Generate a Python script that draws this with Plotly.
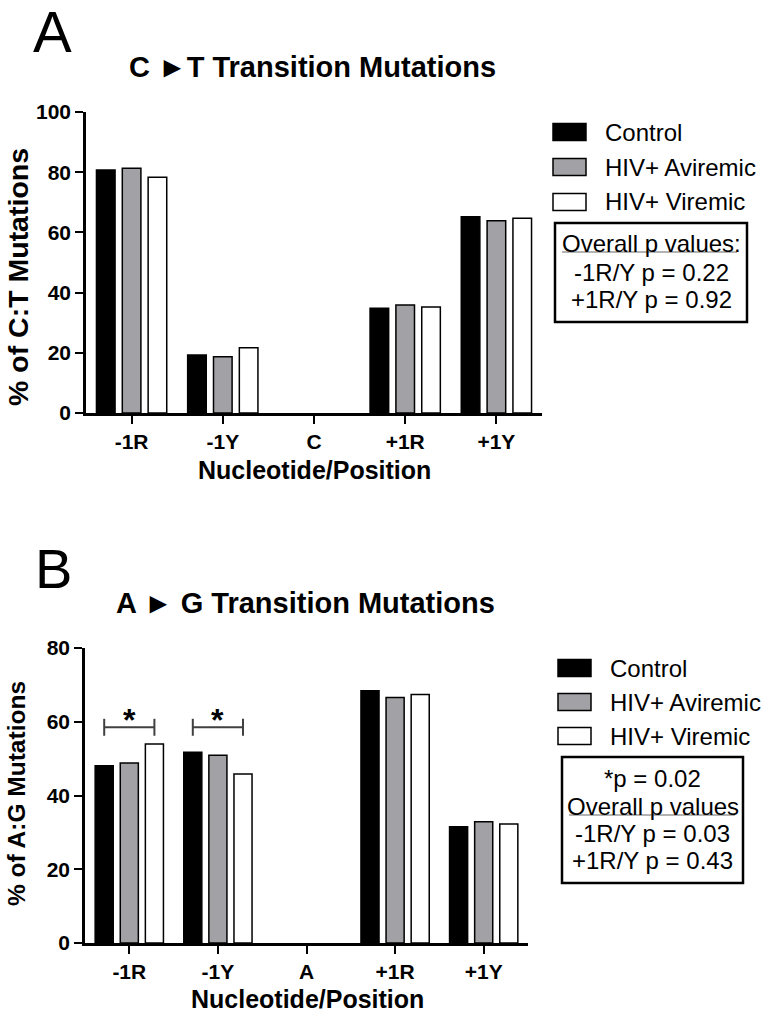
import plotly.graph_objects as go

# ---------------- data ----------------
categories_A = ["-1R", "-1Y", "C", "+1R", "+1Y"]
categories_B = ["-1R", "-1Y", "A", "+1R", "+1Y"]
groups = ["Control", "HIV+ Aviremic", "HIV+ Viremic"]

ct_control = [80.7, 19.3, None, 34.8, 65.2]
ct_aviremic = [81.3, 18.7, None, 35.9, 63.9]
ct_viremic = [78.3, 21.7, None, 35.2, 64.7]

ag_control = [48.1, 51.7, None, 68.4, 31.5]
ag_aviremic = [48.8, 50.9, None, 66.6, 32.9]
ag_viremic = [54.0, 45.8, None, 67.4, 32.3]

yticks_A = [0, 20, 40, 60, 80, 100]
yticks_B = [0, 20, 40, 60, 80]

title_A = "C ►T Transition Mutations"
title_B = "A ► G Transition Mutations"
ytitle_A = "% of C:T Mutations"
ytitle_B = "% of A:G Mutations"
xtitle = "Nucleotide/Position"

stats_A = ["Overall p values:", "-1R/Y p = 0.22", "+1R/Y p = 0.92"]
stats_B = ["*p = 0.02", "Overall p values", "-1R/Y p = 0.03", "+1R/Y p = 0.43"]

sig_cats_B = ["-1R", "-1Y"]   # significance brackets (Control vs Viremic)
sig_level_B = 58.5
sig_star_B = 60.6

# ---------------- style ----------------
FONT = "Liberation Sans, Arial, Helvetica, sans-serif"
fills = ["#000000", "#a2a2a6", "#ffffff"]
W, H = 768, 1016
BARGAP, GROUPGAP = 0.15, 0.28


def px(x):
    return x / W


def py(y):
    return 1 - y / H


fig = go.Figure()

series_A = [ct_control, ct_aviremic, ct_viremic]
series_B = [ag_control, ag_aviremic, ag_viremic]

for name, vals, col in zip(groups, series_A, fills):
    fig.add_trace(go.Bar(x=categories_A, y=vals, name=name,
                         marker=dict(color=col, line=dict(color="black", width=1.5)),
                         xaxis="x", yaxis="y", showlegend=False))
for name, vals, col in zip(groups, series_B, fills):
    fig.add_trace(go.Bar(x=categories_B, y=vals, name=name,
                         marker=dict(color=col, line=dict(color="black", width=1.5)),
                         xaxis="x2", yaxis="y2", showlegend=False))

axis_common = dict(showline=True, linecolor="black", linewidth=2.5, ticks="outside", ticklen=8, tickwidth=2,
                   tickcolor="black", showgrid=False, zeroline=False, automargin=False,
                   tickfont=dict(family=FONT, size=21, color="black", weight="bold"))

fig.update_layout(
    width=W, height=H, margin=dict(l=0, r=0, t=0, b=0, pad=0, autoexpand=False),
    showlegend=False,
    paper_bgcolor="white", plot_bgcolor="white",
    barmode="group", bargap=BARGAP, bargroupgap=GROUPGAP,
    xaxis=dict(domain=[px(86), px(542)], anchor="y", type="category", range=[-0.5, 4.5], **axis_common),
    yaxis=dict(domain=[py(413), py(112)], anchor="x", range=[0, 100], tickvals=yticks_A, **axis_common),
    xaxis2=dict(domain=[px(85), px(528)], anchor="y2", type="category", range=[-0.5, 4.5], **axis_common),
    yaxis2=dict(domain=[py(943), py(648)], anchor="x2", range=[0, 80], tickvals=yticks_B, **axis_common),
)

ann = []
shapes = []


def text(x, y, s, size, bold=False, xanchor="center", angle=0):
    ann.append(dict(x=px(x), y=py(y), xref="paper", yref="paper", text=s, showarrow=False,
                    xanchor=xanchor, yanchor="middle", textangle=angle,
                    font=dict(family=FONT, size=size, color="black", weight="bold" if bold else "normal")))


# panel letters and titles
text(52, 32, "A", 58)
text(53, 568, "B", 56)
text(312, 67, title_A, 29, bold=True)
text(305, 603, title_B, 29, bold=True)

# axis titles
text(314, 470, xtitle, 25, bold=True)
text(307, 999, xtitle, 25, bold=True)
text(18, 277, ytitle_A, 28.5, bold=True, angle=-90)
text(16, 794, ytitle_B, 24.5, bold=True, angle=-90)


# legends (drawn manually)
def legend(x_sw, x_txt, ys):
    for g, col, yc in zip(groups, fills, ys):
        shapes.append(dict(type="rect", xref="paper", yref="paper", x0=px(x_sw), x1=px(x_sw + 33),
                           y0=py(yc - 8.5), y1=py(yc + 8.5), fillcolor=col, line=dict(color="black", width=1.5)))
        text(x_txt, yc, g, 24, xanchor="left")


legend(553, 603, [132, 167, 202])
legend(558, 608, [668, 702, 736])


# stats boxes
def box(x0, x1, y0, y1, lines, ys, ul_y, ul_x):
    shapes.append(dict(type="rect", xref="paper", yref="paper", x0=px(x0), x1=px(x1), y0=py(y0), y1=py(y1),
                       line=dict(color="black", width=2.5), fillcolor="rgba(0,0,0,0)"))
    xc = (x0 + x1) / 2
    for s, yc in zip(lines, ys):
        text(xc, yc, s, 24)
    shapes.append(dict(type="line", xref="paper", yref="paper", x0=px(ul_x[0]), x1=px(ul_x[1]),
                       y0=py(ul_y), y1=py(ul_y), line=dict(color="#9a9a9a", width=1.5)))


box(555, 747, 223, 322, stats_A, [243, 273, 300], 252, (562, 737))
box(562, 743, 757, 883, stats_B, [778, 806, 833, 860], 815, (569, 735))

# significance brackets on panel B (control centre to viremic centre)
slot = (1 - BARGAP) / 3
for cat in sig_cats_B:
    i = categories_B.index(cat)
    xl, xr = i - slot, i + slot
    shapes.append(dict(type="line", xref="x2", yref="y2", x0=xl, x1=xr, y0=sig_level_B, y1=sig_level_B,
                       line=dict(color="#404040", width=2)))
    for xe in (xl, xr):
        shapes.append(dict(type="line", xref="x2", yref="y2", x0=xe, x1=xe, y0=sig_level_B - 2.3,
                           y1=sig_level_B + 2.3, line=dict(color="#404040", width=2)))
    ann.append(dict(x=i, y=sig_star_B, xref="x2", yref="y2", text="*", showarrow=False,
                    yanchor="middle", font=dict(family=FONT, size=32, color="black", weight="bold")))

fig.update_layout(annotations=ann, shapes=shapes)
# remove the browser's default body margin so the 768x1016 figure fills the window exactly
fig.write_html("out.html", config={"displayModeBar": False},
               post_script="document.body.style.margin='0';document.body.style.overflow='hidden';")
